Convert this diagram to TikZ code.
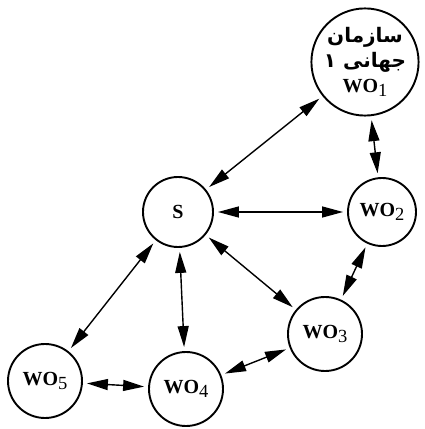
\documentclass[tikz,border=0pt]{standalone}
\usepackage{fontspec}
\setmainfont{Liberation Serif}
\newfontfamily\arabicfont[Script=Arabic]{DejaVu Sans}
\TeXXeTstate=1
\usetikzlibrary{arrows.meta}
\newcommand{\wolabel}[1]{{\fontsize{20}{20}\selectfont\bfseries WO}\raisebox{-4pt}{\fontsize{18.5}{18.5}\selectfont #1}}
\tikzset{
  org/.style={circle, draw, line width=1.9pt, inner sep=0pt},
  tip/.tip={Triangle[length=21pt,width=11pt]},
  link/.style={tip-tip, line width=1.4pt, shorten <=4pt, shorten >=4pt}
}
\begin{document}
\begin{tikzpicture}[x=1pt,y=1pt]
\useasboundingbox (0,0) rectangle (424,429);
\node[org, minimum size=106pt, align=center, font=\fontsize{20}{25}\selectfont] (w1) at (365,367)
  {{\arabicfont\bfseries\beginR سازمان\endR}\\
   {\arabicfont\bfseries\beginR جهانی ۱\endR}\\
   \wolabel{1}};
\node[org, minimum size=70pt] (s) at (178,217) {\fontsize{20}{20}\selectfont\bfseries S};
\node[org, minimum size=68pt] (w2) at (382,217) {\wolabel{2}};
\node[org, minimum size=74pt] (w3) at (325,95) {\wolabel{3}};
\node[org, minimum size=74pt] (w4) at (186,40) {\wolabel{4}};
\node[org, minimum size=74pt] (w5) at (45,48) {\wolabel{5}};
\draw[link] (s) -- (w1);
\draw[link] (s) -- (w2);
\draw[link] (s) -- (w3);
\draw[link] (s) -- (w4);
\draw[link] (s) -- (w5);
\draw[link] (w1) -- (w2);
\draw[link] (w2) -- (w3);
\draw[link] (w3) -- (w4);
\draw[link] (w4) -- (w5);
\end{tikzpicture}
\end{document}
